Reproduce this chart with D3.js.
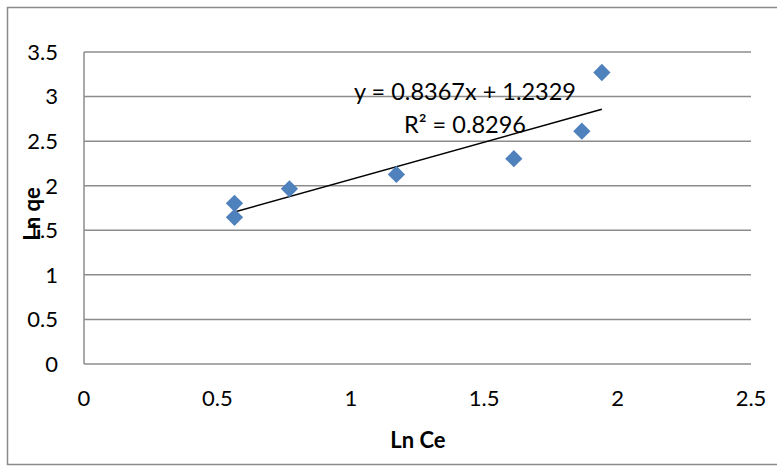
<!DOCTYPE html>
<html>
<head>
<meta charset="utf-8">
<script src="https://cdn.jsdelivr.net/npm/d3@7"></script>
<style>
  html, body { margin: 0; padding: 0; background: #ffffff; }
  svg { display: block; }
  text { font-family: Lato, "Open Sans", sans-serif; fill: #000; }
</style>
</head>
<body>
<svg id="chart" width="777" height="466"></svg>
<script>
// Ln Ce vs Ln qe observations
const lnCe = [0.564, 0.564, 0.770, 1.171, 1.611, 1.866, 1.941];
const lnQe = [1.803, 1.646, 1.965, 2.126, 2.303, 2.612, 3.270];

// Linear fit reported on the chart
const slope = 0.8367;
const intercept = 1.2329;
const rSquared = 0.8296;

// Axis ticks
const xTicks = [0, 0.5, 1, 1.5, 2, 2.5];
const yTicks = [0, 0.5, 1, 1.5, 2, 2.5, 3, 3.5];

const W = 777, H = 466;
const margin = { left: 84, right: 26, top: 52, bottom: 102 };

const svg = d3.select("#chart");

// chart frame
svg.append("rect")
  .attr("x", 7.5).attr("y", 7.5)
  .attr("width", 780).attr("height", 457)
  .attr("fill", "#fff")
  .attr("stroke", "#8a8a8a").attr("stroke-width", 1.5);

const x = d3.scaleLinear().domain([0, 2.5]).range([margin.left, W - margin.right]);
const y = d3.scaleLinear().domain([0, 3.5]).range([H - margin.bottom, margin.top]);

// horizontal gridlines
svg.append("g")
  .selectAll("line")
  .data(yTicks)
  .join("line")
  .attr("x1", x(0)).attr("x2", x(2.5))
  .attr("y1", d => y(d)).attr("y2", d => y(d))
  .attr("stroke", "#8c8c8c").attr("stroke-width", 1.5);

// y axis line
svg.append("line")
  .attr("x1", x(0)).attr("x2", x(0))
  .attr("y1", y(0)).attr("y2", y(3.5))
  .attr("stroke", "#8c8c8c").attr("stroke-width", 1.5);

// y tick labels
svg.append("g")
  .selectAll("text")
  .data(yTicks)
  .join("text")
  .attr("x", 58)
  .attr("y", d => y(d))
  .attr("dy", "0.36em")
  .attr("text-anchor", "end")
  .attr("font-size", 22)
  .text(d => d);

// x tick labels
svg.append("g")
  .selectAll("text")
  .data(xTicks)
  .join("text")
  .attr("x", d => x(d))
  .attr("y", 398)
  .attr("dy", "0.36em")
  .attr("text-anchor", "middle")
  .attr("font-size", 22)
  .text(d => d);

// axis titles
svg.append("text")
  .attr("x", 418).attr("y", 440)
  .attr("dy", "0.36em")
  .attr("text-anchor", "middle")
  .attr("font-size", 22)
  .attr("font-weight", "bold")
  .text("Ln Ce");

svg.append("text")
  .attr("transform", "translate(32,214) rotate(-90)")
  .attr("dy", "0.36em")
  .attr("text-anchor", "middle")
  .attr("font-size", 22)
  .attr("font-weight", "bold")
  .text("Ln qe");

// trendline across the observed range
const [xMin, xMax] = d3.extent(lnCe);
svg.append("line")
  .attr("x1", x(xMin)).attr("y1", y(slope * xMin + intercept))
  .attr("x2", x(xMax)).attr("y2", y(slope * xMax + intercept))
  .attr("stroke", "#000").attr("stroke-width", 1.5);

// markers
const diamond = d3.symbol().type(d3.symbolDiamond2).size(190);
svg.append("g")
  .selectAll("path")
  .data(lnCe.map((v, i) => [v, lnQe[i]]))
  .join("path")
  .attr("transform", d => `translate(${x(d[0])},${y(d[1])})`)
  .attr("d", diamond)
  .attr("fill", "#4f81bd");

// equation label
svg.append("text")
  .attr("x", 465).attr("y", 100)
  .attr("text-anchor", "middle")
  .attr("font-size", 23.5)
  .text(`y = ${slope}x + ${intercept}`);

svg.append("text")
  .attr("x", 465).attr("y", 133)
  .attr("text-anchor", "middle")
  .attr("font-size", 23.5)
  .text(`R² = ${rSquared}`);
</script>
</body>
</html>
